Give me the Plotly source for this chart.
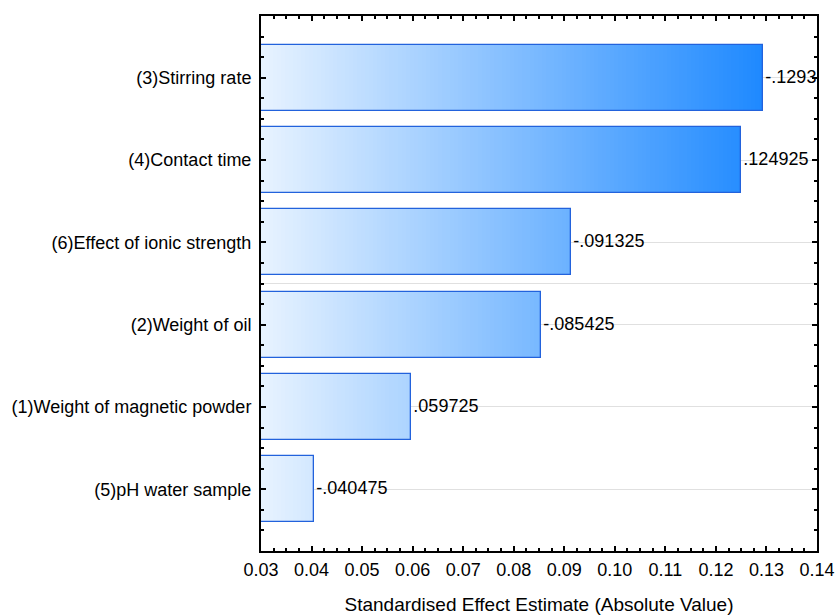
import plotly.graph_objects as go
import numpy as np

# ---- data ----
factors = ["(3)Stirring rate", "(4)Contact time", "(6)Effect of ionic strength",
           "(2)Weight of oil", "(1)Weight of magnetic powder", "(5)pH water sample"]
effects = [0.1293, 0.124925, 0.091325, 0.085425, 0.059725, 0.040475]
effect_labels = ["-.1293", ".124925", "-.091325", "-.085425", ".059725", "-.040475"]
x_ticks = [0.03, 0.04, 0.05, 0.06, 0.07, 0.08, 0.09, 0.10, 0.11, 0.12, 0.13, 0.14]

# ---- style ----
FONT = "Arial, Liberation Sans, sans-serif"
c_start = np.array([232, 243, 255])
c_end = np.array([30, 137, 255])
x_min, x_max = x_ticks[0], x_ticks[-1]
bar_w = 0.8
n_seg = 125

pos = list(range(len(factors)))
vmax = max(effects)
edges = np.linspace(x_min, vmax, n_seg + 1)

fig = go.Figure()

# gradient fill: stacked segments whose colour depends on x position
for k in range(n_seg):
    lo, hi = edges[k], edges[k + 1]
    lengths = [(min(v, hi) - lo) if v > lo else None for v in effects]
    t = (0.5 * (lo + hi) - x_min) / (vmax - x_min)
    c = c_start + (c_end - c_start) * t
    col = "rgb(%d,%d,%d)" % tuple(np.round(c).astype(int))
    fig.add_trace(go.Bar(
        y=pos, x=lengths, base=[lo] * len(pos), orientation="h", width=bar_w,
        marker=dict(color=col, line=dict(width=0)),
        hoverinfo="skip", showlegend=False))

# outline + value labels
fig.add_trace(go.Bar(
    y=pos, x=effects, orientation="h", width=bar_w,
    marker=dict(color="rgba(0,0,0,0)", line=dict(width=1.3, color="#2262dc")),
    text=effect_labels, textposition="outside", constraintext="none",
    textfont=dict(family=FONT, size=18, color="black"),
    cliponaxis=False, showlegend=False))

# minor ticks on the category axis
minor_y = [p + d for p in pos for d in (-0.5, -0.25, 0.25)] + [pos[-1] + 0.25, pos[-1] + 0.5]

fig.add_shape(type="line", xref="paper", x0=0, x1=1, yref="y",
              y0=np.mean(pos), y1=np.mean(pos),
              line=dict(color="#e0e0e0", width=1), layer="below")

fig.update_layout(
    width=836, height=615,
    margin=dict(l=261, r=19, t=16, b=64),
    paper_bgcolor="white", plot_bgcolor="white",
    barmode="overlay", bargap=0,
    font=dict(family=FONT, size=18, color="black"),
    xaxis=dict(
        range=[x_min, x_max], tickmode="array", tickvals=x_ticks,
        ticktext=["%.2f" % v for v in x_ticks], automargin=False,
        ticks="inside", ticklen=5, tickwidth=2, tickcolor="black",
        showline=True, linewidth=2, linecolor="black", mirror="ticks",
        showgrid=False, zeroline=False, ticklabelstandoff=1,
        minor=dict(dtick=0.0025, tick0=0.03, ticks="inside", ticklen=3,
                   tickwidth=1.5, tickcolor="black", showgrid=False),
        title=dict(text="Standardised Effect Estimate (Absolute Value)",
                   font=dict(size=19), standoff=19),
    ),
    yaxis=dict(
        range=[pos[-1] + 0.75, pos[0] - 0.75], tickmode="array", tickvals=pos,
        ticktext=factors, ticks="inside", ticklen=5, tickwidth=2, tickcolor="black",
        showline=True, linewidth=2, linecolor="black", mirror="ticks",
        showgrid=True, gridcolor="#e0e0e0", gridwidth=1, zeroline=False,
        ticklabelstandoff=4, automargin=False,
        minor=dict(tickmode="array", tickvals=minor_y, ticks="inside", ticklen=3,
                   tickwidth=1.5, tickcolor="black", showgrid=False),
    ),
)

fig.write_html("out.html")
